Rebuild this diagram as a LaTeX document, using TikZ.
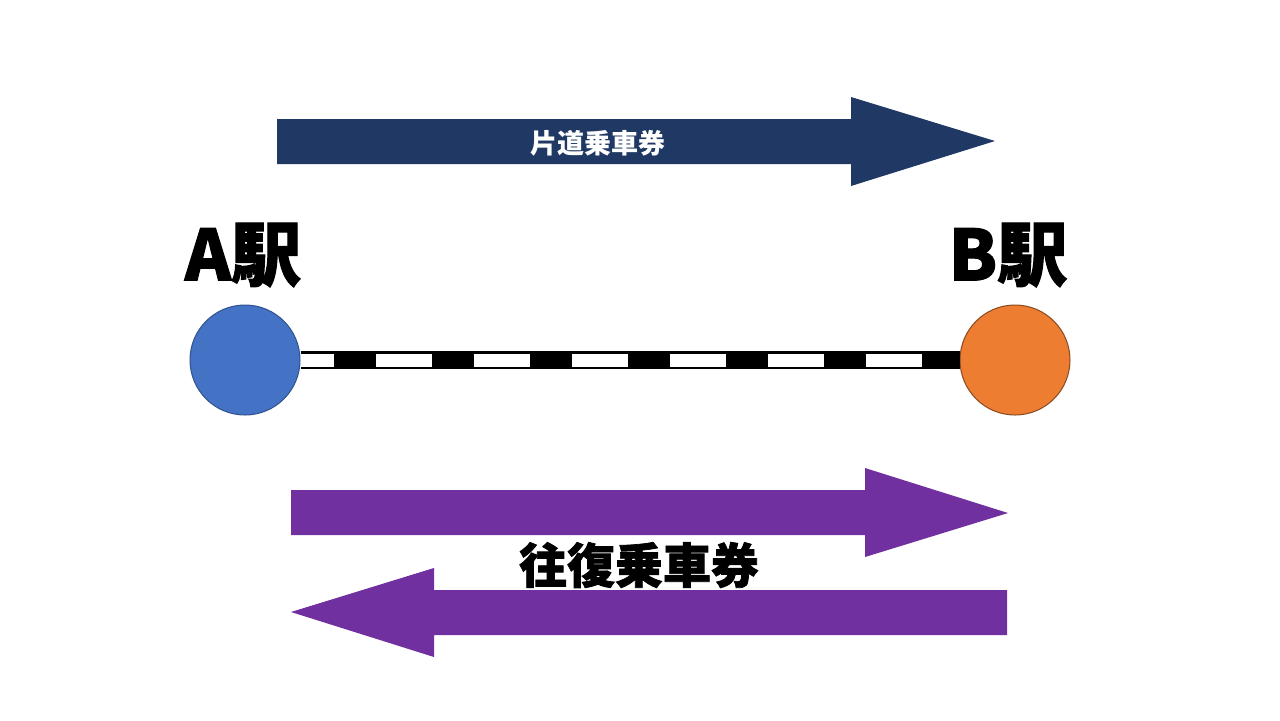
\documentclass[tikz,border=0pt]{standalone}
\usepackage{fontspec}
\setmainfont{Noto Sans CJK JP}
\newfontfamily\heavyfont{Noto Sans CJK JP}[BoldFeatures={FakeBold=1.5}]
\definecolor{navyarrow}{HTML}{203864}
\definecolor{purplearrow}{HTML}{7030A0}
\definecolor{bluesta}{HTML}{4472C4}
\definecolor{bluestaline}{HTML}{2F528F}
\definecolor{orangesta}{HTML}{ED7D31}
\definecolor{orangestaline}{HTML}{8A4A1F}
\tikzset{
  station/.style={circle,minimum size=55pt,inner sep=0pt,line width=0.5pt},
  stalabel/.style={font=\heavyfont\bfseries\fontsize{35}{35}\selectfont,inner sep=0pt},
  onewayarrow/.style={fill=navyarrow},
  roundarrow/.style={fill=purplearrow}
}
\begin{document}
\begin{tikzpicture}[x=0.5pt,y=-0.5pt]
\useasboundingbox (0,0) rectangle (1280,720);
% stations
\node[station,fill=bluesta,draw=bluestaline] (staA) at (245,360) {};
\node[station,fill=orangesta,draw=orangestaline] (staB) at (1015,360) {};
\node[stalabel] (labA) at (243,255) {A駅};
\node[stalabel] (labB) at (1008,255) {B駅};
% track
\draw[line width=9pt] (staA.east) -- (staB.west);
\draw[white,line width=6.5pt,dash pattern=on 28pt off 21pt,dash phase=11.5pt] (staA.east) -- (staB.west);
% one-way ticket
\fill[onewayarrow] (277,119) -- (851,119) -- (851,97) -- (995,141) -- (851,186) -- (851,164) -- (277,164) -- cycle;
\node[white,font=\bfseries\fontsize{13.5}{13.5}\selectfont] (oneway) at (598,143) {片道乗車券};
% round-trip ticket
\fill[roundarrow] (291,490) -- (865,490) -- (865,468) -- (1008,513) -- (865,557) -- (865,535) -- (291,535) -- cycle;
\fill[roundarrow] (1007,590) -- (434,590) -- (434,568) -- (291,612) -- (434,657) -- (434,635) -- (1007,635) -- cycle;
\node[font=\heavyfont\bfseries\fontsize{24}{24}\selectfont] (roundtrip) at (639,565) {往復乗車券};
\end{tikzpicture}
\end{document}
